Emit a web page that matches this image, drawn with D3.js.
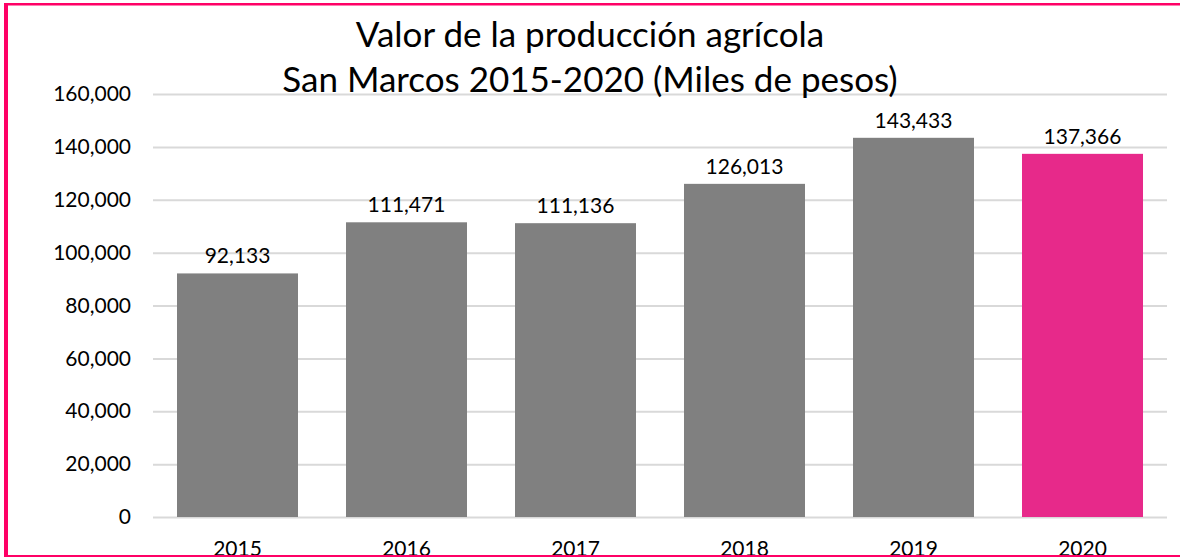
<!DOCTYPE html>
<html>
<head>
<meta charset="utf-8">
<script src="https://cdn.jsdelivr.net/npm/d3@7"></script>
<style>
  html, body { margin: 0; padding: 0; background: #fff; }
  svg { display: block; font-family: Lato, "Open Sans", sans-serif; }
</style>
</head>
<body>
<script>
    'use strict';

    var years = ['2015', '2016', '2017', '2018', '2019', '2020'];
    var values = [92133, 111471, 111136, 126013, 143433, 137366];
    var yTicks = [0, 20000, 40000, 60000, 80000, 100000, 120000, 140000, 160000];
    var titleLines = ['Valor de la producción agrícola', 'San Marcos 2015-2020 (Miles de pesos)'];

    var width = 1180;
    var height = 557;
    var plotLeft = 153, plotRight = 1167, plotTop = 94, plotBottom = 517;
    var fmt = d3.format(',');

    var svg = d3.select('body')
        .append('svg')
        .attr('width', width)
        .attr('height', height)
        ;

    var x = d3.scaleBand()
        .domain(years)
        .range([plotLeft, plotRight])
        .paddingInner(0.284)
        .paddingOuter(0.142)
        ;

    var y = d3.scaleLinear()
        .domain([0, 160000])
        .range([plotBottom, plotTop])
        ;

    // gridlines + y labels
    var yAxis = svg.append('g')
        .attr('transform', 'translate(' + plotLeft + ',0)')
        .call(d3.axisLeft(y).tickValues(yTicks).tickFormat(fmt)
            .tickSize(-(plotRight - plotLeft)).tickPadding(22))
        ;
    yAxis.select('.domain').remove();
    yAxis.selectAll('line').attr('stroke', '#d9d9d9').attr('stroke-width', 2);
    yAxis.selectAll('text')
        .attr('fill', '#000')
        .attr('font-size', 21)
        .attr('font-family', 'Lato, sans-serif')
        ;

    svg.selectAll('rect.bar')
        .data(values)
        .enter()
        .append('rect')
        .attr('class', 'bar')
        .attr('x', function (d, i) { return x(years[i]); })
        .attr('y', y)
        .attr('width', x.bandwidth())
        .attr('height', function (d) { return plotBottom - y(d); })
        .attr('fill', function (d, i) { return i === years.length - 1 ? '#e7298a' : '#808080'; })
        ;

    svg.selectAll('text.val')
        .data(values)
        .enter()
        .append('text')
        .attr('class', 'val')
        .attr('x', function (d, i) { return x(years[i]) + x.bandwidth() / 2; })
        .attr('y', function (d) { return y(d) - 10; })
        .attr('text-anchor', 'middle')
        .attr('font-size', 21)
        .text(fmt)
        ;

    // year labels sit on the bottom edge and are clipped by the frame, as in the original
    svg.selectAll('text.year')
        .data(years)
        .enter()
        .append('text')
        .attr('class', 'year')
        .attr('x', function (d) { return x(d) + x.bandwidth() / 2; })
        .attr('y', 556)
        .attr('text-anchor', 'middle')
        .attr('font-size', 21)
        .text(String)
        ;

    svg.selectAll('text.title')
        .data(titleLines)
        .enter()
        .append('text')
        .attr('class', 'title')
        .attr('x', 590)
        .attr('y', function (d, i) { return 47 + i * 45; })
        .attr('text-anchor', 'middle')
        .attr('font-size', 35)
        .text(String)
        ;

    // pink frame
    svg.append('rect').attr('x', 4).attr('y', 3).attr('width', 4).attr('height', 554).attr('fill', '#ff0066');
    svg.append('rect').attr('x', 4).attr('y', 3).attr('width', 1176).attr('height', 2.5).attr('fill', '#ff0066');
    svg.append('rect').attr('x', 4).attr('y', 555).attr('width', 1176).attr('height', 2).attr('fill', '#ff0066');
</script>
</body>
</html>
